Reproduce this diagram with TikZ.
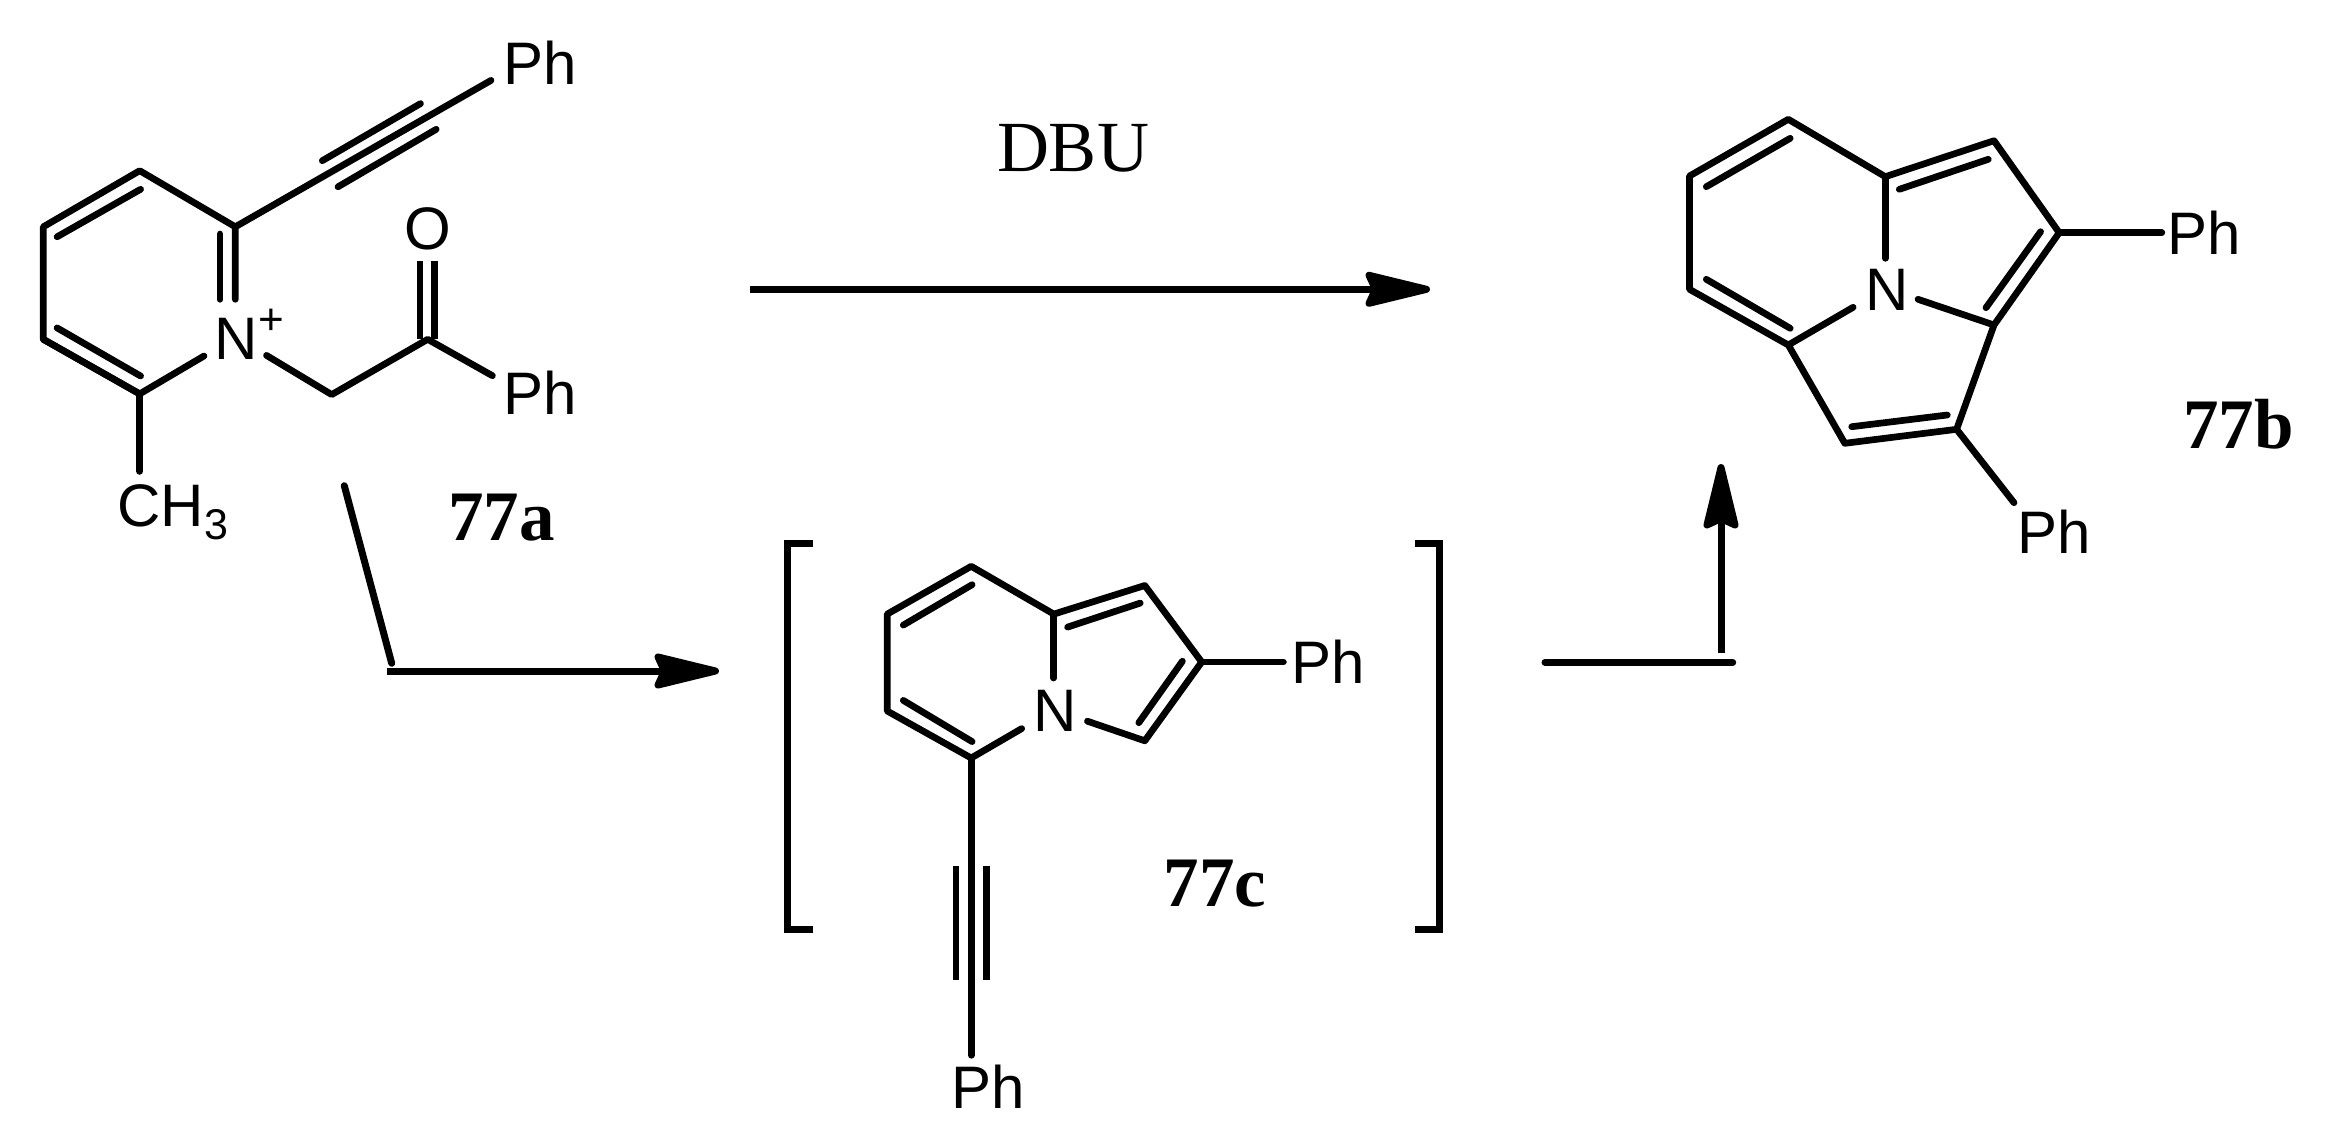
\documentclass[tikz,border=0pt]{standalone}
\usepackage{fontspec}
\setmainfont{Liberation Serif}
\setsansfont{Liberation Sans}
\usetikzlibrary{arrows.meta}
\tikzset{
  bond/.style={line width=6.7pt,line cap=round,line join=round,black},
  bondflat/.style={line width=6.7pt,line cap=butt,line join=miter,black},
  rxn/.style={line width=7pt,line cap=butt,black,-{Stealth[length=78pt,width=37pt,inset=8pt,round]}},
  rxnline/.style={line width=7pt,line cap=round,black},
  brk/.style={line width=7pt,line cap=butt,line join=miter,black},
  atomlab/.style={anchor=base west,inner sep=0pt,outer sep=0pt,font=\sffamily\fontsize{60}{70}\selectfont},
  cmpd/.style={anchor=base west,inner sep=0pt,outer sep=0pt,font=\rmfamily\bfseries\fontsize{71}{80}\selectfont},
  reag/.style={anchor=base west,inner sep=0pt,outer sep=0pt,font=\rmfamily\fontsize{72}{80}\selectfont},
  chg/.style={anchor=center,inner sep=0pt,outer sep=0pt,font=\sffamily\fontsize{44}{50}\selectfont}
}
\begin{document}
\begin{tikzpicture}[x=1pt,y=-1pt]
\useasboundingbox (0,0) rectangle (2331,1135);
% ---------- 77a ----------
\coordinate (a1) at (139.7,170.7); \coordinate (a2) at (43.3,226.8);
\coordinate (a3) at (43.3,339.3); \coordinate (a4) at (139.7,393.9);
\coordinate (a5) at (235.3,226.8);
\coordinate (a12s) at (57.1,236.8); \coordinate (a12e) at (140.6,189.3);
\coordinate (a34s) at (57.1,327.9); \coordinate (a34e) at (140.6,376);
\coordinate (a5n) at (235.3,299.3); \coordinate (a5is) at (220,234); \coordinate (a5ie) at (220,299.3);
\coordinate (a4n) at (204,356); \coordinate (ancs) at (266.5,355.4);
\coordinate (ach2) at (331.7,394.6); \coordinate (aco) at (427.7,339.3);
\coordinate (aph2e) at (492.4,375.7);
\coordinate (ao1s) at (420,260.7); \coordinate (ao1e) at (420,339.3);
\coordinate (ao2s) at (434.8,260.7); \coordinate (ao2e) at (434.8,339.3);
\coordinate (ame) at (139.7,471.4);
\coordinate (aph1e) at (491,80.4);
\coordinate (at1s) at (322.3,160.7); \coordinate (at1e) at (420.5,103.6);
\coordinate (at2s) at (338,186.8); \coordinate (at2e) at (436.2,129.3);
\draw[bond] (a4)--(a3)--(a2)--(a1)--(a5)--(a5n);
\draw[bond] (a12s)--(a12e);
\draw[bond] (a34s)--(a34e);
\draw[bond] (a3)--(a4)--(a4n);
\draw[bond] (a5is)--(a5ie);
\draw[bond] (ancs)--(ach2)--(aco)--(aph2e);
\draw[bondflat] (ao1s)--(ao1e);
\draw[bondflat] (ao2s)--(ao2e);
\draw[bond] (a4)--(ame);
\draw[bond] (a5)--(aph1e);
\draw[bond] (at1s)--(at1e);
\draw[bond] (at2s)--(at2e);
\node[atomlab] (aPh1) at (503,84) {Ph};
\node[atomlab] (aPh2) at (503,414.3) {Ph};
\node[atomlab] (aN) at (214.3,359) {N};
\node[chg] (aplus) at (271.4,322) {+};
\node[atomlab] (aO) at (404.4,249) {O};
\node[atomlab] (aCH3) at (117.5,526) {CH\raisebox{-13.6pt}{\fontsize{43}{50}\selectfont 3}};
\node[cmpd] (la) at (448,540) {77a};
% ---------- 77b ----------
\coordinate (b1) at (1788.3,119.3); \coordinate (b2) at (1689.5,176);
\coordinate (b3) at (1689.5,289.3); \coordinate (b4) at (1788.3,345);
\coordinate (b5) at (1885.3,176.7); \coordinate (b6) at (1994,140.7);
\coordinate (b7) at (2059.2,232.7); \coordinate (b8) at (1994,325);
\coordinate (b9) at (1956.6,429.3); \coordinate (b10) at (1844.8,443.3);
\coordinate (b12s) at (1706.3,186.7); \coordinate (b12e) at (1790.2,138.3);
\coordinate (b34s) at (1706.3,279.3); \coordinate (b34e) at (1790.2,328.3);
\coordinate (b56s) at (1899.3,189.3); \coordinate (b56e) at (1988.3,159.3);
\coordinate (b78s) at (2040.6,231.7); \coordinate (b78e) at (1986,307.7);
\coordinate (b90s) at (1851.7,426.7); \coordinate (b90e) at (1947.3,415);
\coordinate (b5n) at (1885.3,258.3); \coordinate (b4n) at (1853.1,307.3); \coordinate (b8n) at (1918,299.3);
\coordinate (bph1) at (2161.8,232.7); \coordinate (bph2) at (2014,502.7);
\draw[bond] (b4n)--(b4)--(b3)--(b2)--(b1)--(b5)--(b6)--(b7)--(b8)--(b9)--(b10)--(b4);
\draw[bond] (b5)--(b5n);
\draw[bond] (b8)--(b8n);
\draw[bond] (b12s)--(b12e);
\draw[bond] (b34s)--(b34e);
\draw[bond] (b56s)--(b56e);
\draw[bond] (b78s)--(b78e);
\draw[bond] (b90s)--(b90e);
\draw[bond] (b7)--(bph1);
\draw[bond] (b9)--(bph2);
\node[atomlab] (bN) at (1865.8,310) {N};
\node[atomlab] (bPh1) at (2167.9,254) {Ph};
\node[atomlab] (bPh2) at (2017.4,553.3) {Ph};
\node[cmpd] (lb) at (2183,448.3) {77b};
% ---------- 77c ----------
\coordinate (c1) at (971.2,566.3); \coordinate (c2) at (887.2,614.1);
\coordinate (c3) at (887.2,711); \coordinate (c4) at (971.2,758);
\coordinate (c5) at (1053.8,614.1); \coordinate (c6) at (1144.8,585.5);
\coordinate (c7) at (1201.7,662); \coordinate (c8) at (1144.8,740.8);
\coordinate (c12s) at (903.3,625.1); \coordinate (c12e) at (972.1,584.7);
\coordinate (c34s) at (903.3,700.4); \coordinate (c34e) at (972.1,741.6);
\coordinate (c56s) at (1067.6,627.1); \coordinate (c56e) at (1140.2,603.1);
\coordinate (c78s) at (1182.4,661.2); \coordinate (c78e) at (1138.8,722.7);
\coordinate (c5n) at (1053.8,678); \coordinate (c4n) at (1021.7,728.6); \coordinate (c8n) at (1087.4,721.2);
\coordinate (cph1) at (1283.4,662); \coordinate (cph2) at (971.2,1055.3);
\coordinate (ct1s) at (956,865.9); \coordinate (ct1e) at (956,979.6);
\coordinate (ct2s) at (986.4,865.9); \coordinate (ct2e) at (986.4,979.6);
\draw[bond] (c4n)--(c4)--(c3)--(c2)--(c1)--(c5)--(c6)--(c7)--(c8)--(c8n);
\draw[bond] (c5)--(c5n);
\draw[bond] (c12s)--(c12e);
\draw[bond] (c34s)--(c34e);
\draw[bond] (c56s)--(c56e);
\draw[bond] (c78s)--(c78e);
\draw[bond] (c7)--(cph1);
\draw[bond] (c4)--(cph2);
\draw[bondflat] (ct1s)--(ct1e);
\draw[bondflat] (ct2s)--(ct2e);
\node[atomlab] (cN) at (1033.2,731.8) {N};
\node[atomlab] (cPh1) at (1291.7,683.5) {Ph};
\node[atomlab] (cPh2) at (951.4,1108) {Ph};
\node[cmpd] (lc) at (1163.5,906.3) {77c};
% brackets
\coordinate (bl1) at (812.8,543.5); \coordinate (bl2) at (787.5,543.5);
\coordinate (bl3) at (787.5,929.8); \coordinate (bl4) at (812.8,929.8);
\coordinate (br1) at (1415.2,543.5); \coordinate (br2) at (1439.5,543.5);
\coordinate (br3) at (1439.5,929.8); \coordinate (br4) at (1415.2,929.8);
\draw[brk] (bl1)--(bl2)--(bl3)--(bl4);
\draw[brk] (br1)--(br2)--(br3)--(br4);
% ---------- arrows ----------
\node[reag] (dbu) at (997,171.7) {DBU};
\coordinate (m1) at (750,289.3); \coordinate (m2) at (1430,289.3);
\draw[rxn] (m1)--(m2);
\coordinate (d1) at (344.3,485.7); \coordinate (d2) at (391.7,663.3);
\coordinate (l1) at (386.7,671); \coordinate (l2) at (719,671);
\draw[rxnline] (d1)--(d2);
\draw[rxn] (l1)--(l2);
\coordinate (h1) at (1545,662.3); \coordinate (h2) at (1732.7,662.3);
\coordinate (u1) at (1721,653.3); \coordinate (u2) at (1721,464);
\draw[rxnline] (h1)--(h2);
\draw[rxn] (u1)--(u2);
\end{tikzpicture}
\end{document}
